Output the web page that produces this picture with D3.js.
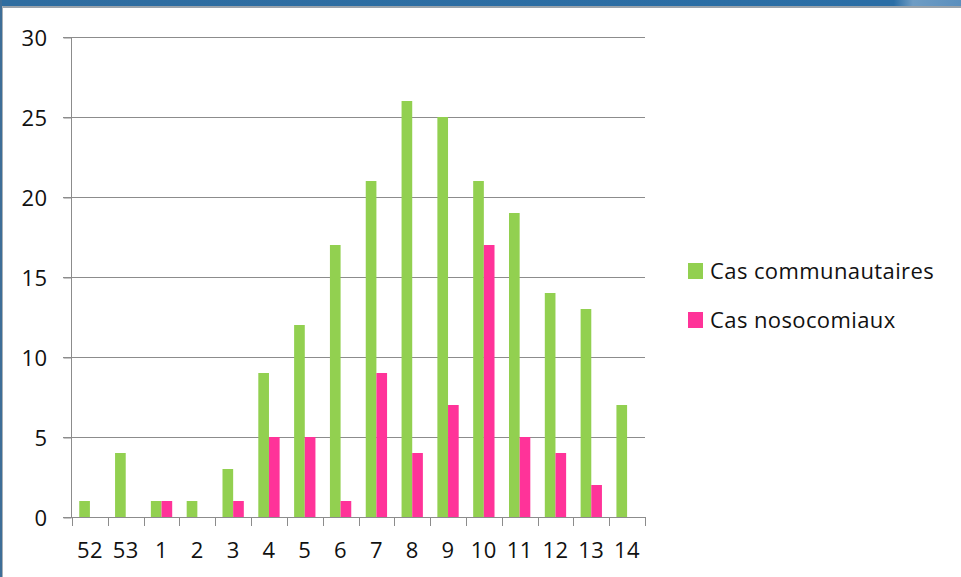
<!DOCTYPE html>
<html><head><meta charset="utf-8">
<script src="https://cdn.jsdelivr.net/npm/d3@7"></script>
<style>html,body{margin:0;padding:0;background:#fff;overflow:hidden}</style>
</head><body>
<svg id="c" width="961" height="577"></svg>
<script>
const weeks = ["52","53","1","2","3","4","5","6","7","8","9","10","11","12","13","14"];
const communautaires = [1,4,1,1,3,9,12,17,21,26,25,21,19,14,13,7];
const nosocomiaux = [0,0,1,0,1,5,5,1,9,4,7,17,5,4,2,0];
const seriesNames = ["Cas communautaires","Cas nosocomiaux"];
const yTicks = [0,5,10,15,20,25,30];

const svg = d3.select("#c");
const font = "'Open Sans', sans-serif";
const ls = "0.4px";
const fs = 22;
// window frame
const defs = svg.append("defs");
const g1 = defs.append("linearGradient").attr("id","frame").attr("x1",0).attr("x2",1);
g1.append("stop").attr("offset","0").attr("stop-color","#2f6da0");
g1.append("stop").attr("offset","0.93").attr("stop-color","#2a6ea6");
g1.append("stop").attr("offset","0.95").attr("stop-color","#6e9cc4");
g1.append("stop").attr("offset","1").attr("stop-color","#5a8fbe");
svg.append("rect").attr("x",0).attr("y",0).attr("width",961).attr("height",6).attr("fill","url(#frame)");
svg.append("rect").attr("x",0).attr("y",6).attr("width",961).attr("height",2).attr("fill","#9aa3ab");
svg.append("rect").attr("x",0).attr("y",0).attr("width",2).attr("height",577).attr("fill","#3e6e98");
svg.append("rect").attr("x",2).attr("y",6).attr("width",1).attr("height",571).attr("fill","#a9b0b6");

const x = d3.scaleBand().domain(weeks).range([72,645]).paddingInner(0).paddingOuter(0);
const y = d3.scaleLinear().domain([0,30]).range([517,37]);
const inner = d3.scaleBand().domain(seriesNames).range([0,x.bandwidth()]).paddingInner(0).paddingOuter(0.68);
const colors = d3.scaleOrdinal().domain(seriesNames).range(["#92d050","#ff3399"]);

// gridlines
svg.append("g").selectAll("line").data(yTicks.filter(d=>d>0)).join("line")
  .attr("x1",63).attr("x2",645).attr("y1",d=>Math.round(y(d))+0.5).attr("y2",d=>Math.round(y(d))+0.5)
  .attr("stroke","#8c8c8c").attr("stroke-width",1);

// y axis
const ya = svg.append("g").attr("transform","translate(71.5,0.5)")
  .call(d3.axisLeft(y).tickValues(yTicks).tickSize(8).tickPadding(16));
ya.select(".domain").attr("stroke","#8c8c8c").attr("d","M0,36.5V516.5");
ya.selectAll(".tick line").attr("stroke","#8c8c8c");
ya.selectAll(".tick text").attr("font-family",font).attr("font-size",fs).attr("letter-spacing",ls).attr("fill","#111").attr("dy","0.36em");

// bars
const data = weeks.map((w,i)=>({w, vals:[communautaires[i], nosocomiaux[i]]}));
const grp = svg.append("g").selectAll("g").data(data).join("g").attr("transform",d=>`translate(${x(d.w)},0)`);
grp.selectAll("rect").data(d=>d.vals.map((v,j)=>({k:seriesNames[j],v}))).join("rect")
  .attr("x",d=>inner(d.k)).attr("width",inner.bandwidth())
  .attr("y",d=>y(d.v)).attr("height",d=>y(0)-y(d.v)).attr("fill",d=>colors(d.k));

// x axis
const xa = svg.append("g").attr("transform","translate(0,517.5)")
  .call(d3.axisBottom(x).tickSize(0).tickPadding(25));
xa.select(".domain").attr("stroke","#8c8c8c").attr("d","M63,0H645");
xa.selectAll(".tick text").attr("font-family",font).attr("font-size",fs).attr("letter-spacing",ls).attr("fill","#111");
// tick marks at band boundaries
const bounds = weeks.map(w=>x(w)).concat([x(weeks[weeks.length-1])+x.bandwidth()]);
svg.append("g").selectAll("line").data(bounds).join("line")
  .attr("x1",d=>Math.round(d)+0.5).attr("x2",d=>Math.round(d)+0.5).attr("y1",517).attr("y2",526)
  .attr("stroke","#8c8c8c");

// legend
const lg = svg.append("g").selectAll("g").data(seriesNames).join("g")
  .attr("transform",(d,i)=>`translate(688,${263+i*49})`);
lg.append("rect").attr("width",15).attr("height",16).attr("fill",d=>colors(d));
lg.append("text").attr("x",22).attr("y",16).text(d=>d)
  .attr("font-family",font).attr("font-size",fs).attr("letter-spacing",ls).attr("fill","#111");
</script>
</body></html>
